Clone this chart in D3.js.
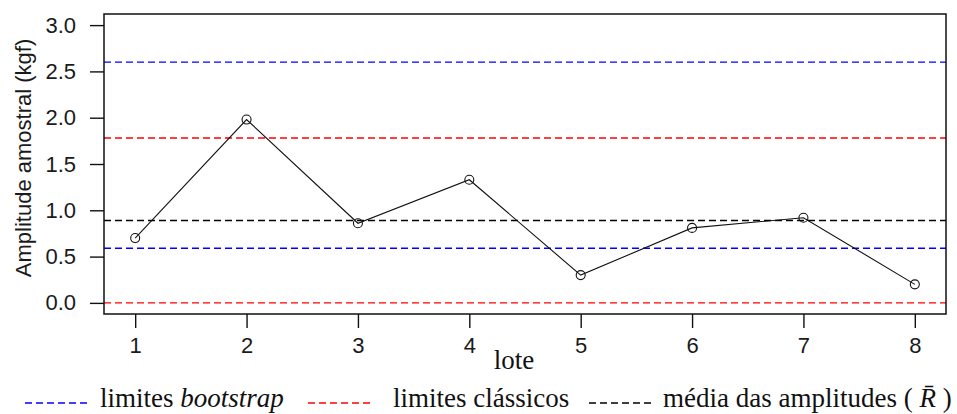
<!DOCTYPE html>
<html>
<head>
<meta charset="utf-8">
<script src="https://cdn.jsdelivr.net/npm/d3@7"></script>
<style>
  body { margin: 0; background: #fff; }
  svg { display: block; }
</style>
</head>
<body>
<div id="chart"></div>
<script>
// lotes and their sample ranges (kgf)
var lotes = [1, 2, 3, 4, 5, 6, 7, 8];
var amplitudes = [0.70, 1.98, 0.86, 1.33, 0.30, 0.81, 0.92, 0.20];

// reference lines
var limitesBootstrap = [0.59, 2.60];
var limitesClassicos = [0.00, 1.78];
var mediaAmplitudes = [0.89];

var yTicks = [0.0, 0.5, 1.0, 1.5, 2.0, 2.5, 3.0];

var legendLabels = ["bootstrap", "classicos", "media"];
var legendColors = ["#0000ff", "#ff0000", "#000000"];

var svgWidth = 957;
var svgHeight = 414;

var margin = { top: 14, right: 11, bottom: 100, left: 104 };
var width = svgWidth - margin.left - margin.right;
var height = svgHeight - margin.top - margin.bottom;

var svg = d3.select("#chart")
  .append("svg")
  .attr("width", svgWidth)
  .attr("height", svgHeight);

var chartGroup = svg.append("g")
  .attr("transform", `translate(${margin.left}, ${margin.top})`);

// R style: 4% padding around the data range
var xScale = d3.scaleLinear()
  .domain([0.72, 8.28])
  .range([0, width]);

var yScale = d3.scaleLinear()
  .domain([-0.12, 3.12])
  .range([height, 0]);

var sansFont = "'Liberation Sans', Arial, sans-serif";
var serifFont = "'Liberation Serif', 'Times New Roman', serif";

// axes
var leftAxis = d3.axisLeft(yScale)
  .tickValues(yTicks)
  .tickFormat(d3.format(".1f"))
  .tickSize(14)
  .tickPadding(14);

var bottomAxis = d3.axisBottom(xScale)
  .tickValues(lotes)
  .tickFormat(d3.format("d"))
  .tickSize(14)
  .tickPadding(9);

var yAxis = chartGroup.append("g").call(leftAxis);
var xAxis = chartGroup.append("g")
  .attr("transform", `translate(0, ${height})`)
  .call(bottomAxis);

[yAxis, xAxis].forEach(function(ax) {
  ax.select(".domain").remove();
  ax.selectAll("line").attr("stroke", "#111").attr("stroke-width", 1.4);
  ax.selectAll("text")
    .attr("fill", "#1a1a1a")
    .style("font-family", sansFont)
    .style("font-size", "22px");
});

// horizontal reference lines
function hlines(values, color) {
  chartGroup.selectAll(null)
    .data(values)
    .enter()
    .append("line")
    .attr("x1", 0)
    .attr("x2", width)
    .attr("y1", d => yScale(d))
    .attr("y2", d => yScale(d))
    .attr("stroke", color)
    .attr("stroke-width", 1.4)
    .attr("stroke-dasharray", "7,4");
}
hlines(limitesBootstrap, legendColors[0]);
hlines(limitesClassicos, legendColors[1]);
hlines(mediaAmplitudes, legendColors[2]);

// data line + open circles
var line = d3.line()
  .x((d, i) => xScale(lotes[i]))
  .y(d => yScale(d));

chartGroup.append("path")
  .datum(amplitudes)
  .attr("d", line)
  .attr("fill", "none")
  .attr("stroke", "#111")
  .attr("stroke-width", 1.1);

chartGroup.selectAll("circle")
  .data(amplitudes)
  .enter()
  .append("circle")
  .attr("cx", (d, i) => xScale(lotes[i]))
  .attr("cy", d => yScale(d))
  .attr("r", 4.5)
  .attr("fill", "none")
  .attr("stroke", "#111")
  .attr("stroke-width", 1.1);

// box
chartGroup.append("rect")
  .attr("x", 0)
  .attr("y", 0)
  .attr("width", width)
  .attr("height", height)
  .attr("fill", "none")
  .attr("stroke", "#111")
  .attr("stroke-width", 1.5);

// axis titles
svg.append("text")
  .attr("transform", "rotate(-90)")
  .attr("x", -158)
  .attr("y", 31)
  .attr("text-anchor", "middle")
  .attr("fill", "#1a1a1a")
  .style("font-family", sansFont)
  .style("font-size", "22px")
  .text("Amplitude amostral (kgf)");

svg.append("text")
  .attr("x", 514)
  .attr("y", 369)
  .attr("text-anchor", "middle")
  .attr("fill", "#111")
  .style("font-family", serifFont)
  .style("font-size", "27px")
  .text("lote");

// legend
var legendX = [25, 308, 589];
var legendY = 403;

var legend = svg.append("g");
legend.selectAll("line")
  .data(legendLabels)
  .enter()
  .append("line")
  .attr("x1", (d, i) => legendX[i])
  .attr("x2", (d, i) => legendX[i] + 65)
  .attr("y1", legendY)
  .attr("y2", legendY)
  .attr("stroke", (d, i) => legendColors[i])
  .attr("stroke-width", 1.4)
  .attr("stroke-dasharray", "7,4");

function legendText(x) {
  return legend.append("text")
    .attr("x", x)
    .attr("y", 407)
    .attr("fill", "#111")
    .style("font-family", serifFont)
    .style("font-size", "27px");
}

var t1 = legendText(legendX[0] + 75);
t1.append("tspan").text("limites ");
t1.append("tspan").style("font-style", "italic").text("bootstrap");

legendText(legendX[1] + 85).text("limites clássicos");

var t3 = legendText(legendX[2] + 74);
t3.append("tspan").text("média das amplitudes ( ");
t3.append("tspan").style("font-style", "italic").text("R\u0304");
t3.append("tspan").text(" )");
</script>
</body>
</html>
